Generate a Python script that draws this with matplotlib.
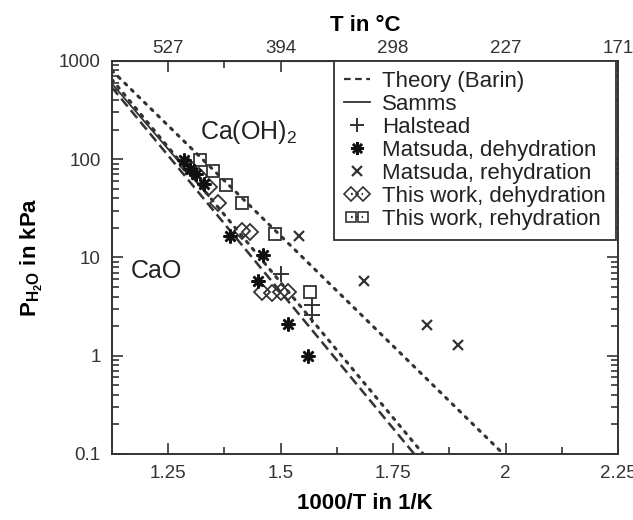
import numpy as np
import matplotlib.pyplot as plt
from matplotlib.legend_handler import HandlerLine2D
from matplotlib.lines import Line2D
from matplotlib import rcParams

config = {
    "font.family": ['Liberation Sans', 'DejaVu Sans'],
    "font.size": 13.5,
    "mathtext.fontset": 'custom',
    "mathtext.rm": 'Liberation Sans',
    "mathtext.bf": 'Liberation Sans:bold',
    "text.color": '#222222',
    "axes.edgecolor": '#333333',
    "xtick.color": '#333333',
    "ytick.color": '#333333',
}
rcParams.update(config)

# lines (end points)
barin_x = [1.125, 1.797]
barin_p = [540, 0.1]
samms_x = [1.125, 1.34]
samms_p = [590, 42]
fit_de_x = [1.125, 1.817]
fit_de_p = [650, 0.1]
fit_re_x = [1.125, 1.995]
fit_re_p = [800, 0.1]

# points
halstead_x = [1.502, 1.57, 1.57]
halstead_p = [6.8, 3.3, 2.6]
matsuda_de_x = [1.285, 1.299, 1.312, 1.329, 1.388, 1.462, 1.451, 1.517, 1.562]
matsuda_de_p = [99, 80, 70, 56, 16.5, 10.5, 5.8, 2.1, 1.0]
matsuda_re_x = [1.54, 1.686, 1.826, 1.894]
matsuda_re_p = [16.5, 5.8, 2.05, 1.28]
work_de_x = [1.295, 1.318, 1.34, 1.362, 1.414, 1.432, 1.458, 1.48, 1.50, 1.517]
work_de_p = [85, 68, 52, 36, 18.5, 18, 4.4, 4.3, 4.4, 4.4]
work_re_x = [1.322, 1.351, 1.378, 1.415, 1.488, 1.566]
work_re_p = [97, 75, 55, 36, 17.5, 4.4]

x_ticks = [1.25, 1.5, 1.75, 2.0, 2.25]
x_labels = ['1.25', '1.5', '1.75', '2', '2.25']
x_minor = [1.375, 1.625, 1.875, 2.125]
top_labels = ['527', '394', '298', '227', '171']
y_ticks = [0.1, 1, 10, 100, 1000]
y_labels = ['0.1', '1', '10', '100', '1000']

c = '#333333'


def plot_equilibrium():
    fig = plt.figure(figsize=(6.33, 5.2), dpi=100)
    ax = fig.add_axes([0.1765, 0.127, 0.8, 0.756])

    ax.plot(barin_x, barin_p, color=c, lw=1.8, ls=(0, (4, 2)))
    ax.plot(samms_x, samms_p, color=c, lw=1.3, ls='-')
    ax.plot(fit_de_x, fit_de_p, color=c, lw=2.2, ls=(0, (0.8, 2.2)), dash_capstyle='round')
    ax.plot(fit_re_x, fit_re_p, color=c, lw=2.2, ls=(0, (0.8, 2.2)), dash_capstyle='round')

    ax.plot(work_de_x, work_de_p, ls='none', marker='D', ms=8, mfc='none', mec=c, mew=1.3)
    ax.plot(work_re_x, work_re_p, ls='none', marker='s', ms=8, mfc='none', mec=c, mew=1.3)
    ax.plot(halstead_x, halstead_p, ls='none', marker='+', ms=11, mec=c, mew=1.4)
    ax.plot(matsuda_de_x, matsuda_de_p, ls='none', marker=(8, 2, 0), ms=10, mec='#111111', mew=1.8)
    ax.plot(matsuda_re_x, matsuda_re_p, ls='none', marker='x', ms=7, mec=c, mew=1.6)

    ax.set_yscale('log')
    ax.set_xlim(1.125, 2.25)
    ax.set_ylim(0.1, 1000)
    ax.set_xticks(x_ticks, x_labels)
    ax.set_xticks(x_minor, minor=True)
    ax.set_yticks(y_ticks, y_labels)
    ax.tick_params(which='both', direction='in', top=False, right=True, width=1.2)
    ax.tick_params(which='major', length=8, pad=8)
    ax.tick_params(which='minor', length=5)
    for sp in ax.spines.values():
        sp.set_linewidth(1.4)

    top = ax.secondary_xaxis('top')
    top.set_xticks(x_ticks, top_labels)
    top.set_xticks(x_minor, minor=True)
    top.tick_params(which='both', direction='in', width=1.2)
    top.tick_params(which='major', length=8, pad=3)
    top.tick_params(which='minor', length=5)
    top.set_xlabel('T in °C', fontsize=16, fontweight='bold', labelpad=6)

    ax.set_xlabel('1000/T in 1/K', fontsize=16, fontweight='bold', labelpad=8)
    ax.set_ylabel(r'$\mathbf{P}_{\mathbf{H_2O}}$ in kPa', fontsize=16, fontweight='bold', labelpad=10)

    ax.text(1.322, 190, r'Ca(OH)$_2$', fontsize=18, ha='left', va='center')
    ax.text(1.167, 7.2, 'CaO', fontsize=18, ha='left', va='center')

    handles = [
        Line2D([], [], color=c, lw=1.6, ls=(0, (3, 2))),
        Line2D([], [], color=c, lw=1.3),
        Line2D([], [], ls='none', marker='+', ms=10, mec=c, mew=1.4),
        Line2D([], [], ls='none', marker=(8, 2, 0), ms=9, mec='#111111', mew=1.8),
        Line2D([], [], ls='none', marker='x', ms=7, mec=c, mew=1.6),
        Line2D([], [], color=c, lw=1.6, ls=(0, (0.8, 1.6)), marker='D', ms=7, mfc='none', mec=c, mew=1.2),
        Line2D([], [], color=c, lw=1.6, ls=(0, (0.8, 1.6)), marker='s', ms=7, mfc='none', mec=c, mew=1.2),
    ]
    labels = ['Theory (Barin)', 'Samms', 'Halstead', 'Matsuda, dehydration',
              'Matsuda, rehydration', 'This work, dehydration', 'This work, rehydration']
    hmap = {handles[5]: HandlerLine2D(numpoints=2), handles[6]: HandlerLine2D(numpoints=2)}
    leg = ax.legend(handles, labels, loc='upper right', bbox_to_anchor=(0.995, 1.0),
                    borderaxespad=0, fontsize=16, handlelength=1.15, handletextpad=0.55,
                    labelspacing=0.09, borderpad=0.45, fancybox=False, framealpha=1,
                    edgecolor=c, numpoints=1, handler_map=hmap)
    leg.get_frame().set_linewidth(1.3)

    plt.savefig('out.png', dpi=100)


if __name__ == '__main__':
    plot_equilibrium()
